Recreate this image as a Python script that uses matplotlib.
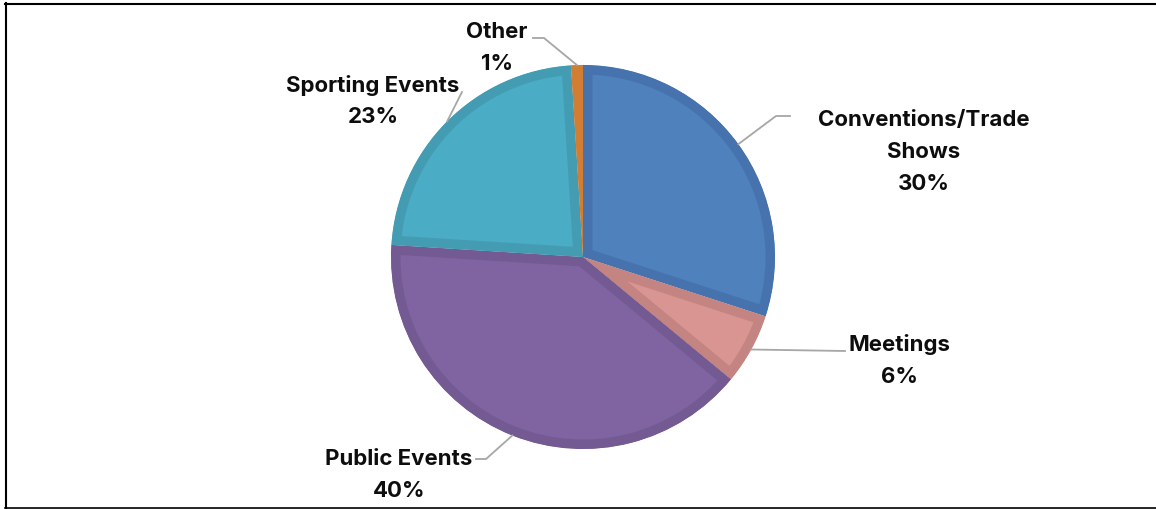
import matplotlib
matplotlib.use("Agg")
import matplotlib.pyplot as plt
import numpy as np
from matplotlib.lines import Line2D

categories = ["Conventions/Trade\nShows", "Meetings", "Public Events", "Sporting Events", "Other"]
values = [30, 6, 40, 23, 1]
pct_labels = ["30%", "6%", "40%", "23%", "1%"]
fill_colors = ["#4F81BD", "#D99592", "#8064A2", "#4AACC5", "#E98B3A"]
edge_colors = ["#4673AD", "#C48582", "#745A93", "#449CB3", "#D27D34"]

W, H = 1156, 510
fig = plt.figure(figsize=(W / 100, H / 100), dpi=100)
ax = fig.add_axes([0, 0, 1, 1])

cx, cy, R = 583, 258, 192
# y axis inverted -> this gives clockwise from 12 o'clock on screen
wedges, _ = ax.pie(values, colors=fill_colors, startangle=-90, counterclock=True,
                   center=(cx, cy), radius=R, frame=True,
                   wedgeprops=dict(linewidth=0))
ax.set_xlim(0, W)
ax.set_ylim(H, 0)
ax.set_aspect("equal")
ax.axis("off")
for w, ec in zip(wedges, edge_colors):
    w.set_edgecolor(ec)
    w.set_linewidth(19 * 72 / 100)
    w.set_joinstyle("miter")
    w.set_clip_on(True)
    w.set_clip_path(w)

font = dict(family=["Inter", "DejaVu Sans"], weight="bold", fontsize=16, color="#0D0D0D")
lc = "#A6A6A6"

# label layout: (text x, first line y, leader points after anchor)
layout = [
    (924, 120, [(776, 117), (790, 117)]),
    (899, 345, [(845, 352)]),
    (399, 459, [(486, 460), (476, 460)]),
    (373, 85, [(462, 93)]),
    (497, 32, [(544, 39), (533, 39)]),
]

cum = np.cumsum([0] + values)
total = sum(values)
for i, (cat, pct) in enumerate(zip(categories, pct_labels)):
    mid = (cum[i] + cum[i + 1]) / 2 / total
    ang = np.deg2rad(90 - 360 * mid)
    ax_pt = (cx + R * np.cos(ang), cy - R * np.sin(ang))
    tx, ty, pts = layout[i]
    xs = [ax_pt[0]] + [p[0] for p in pts]
    ys = [ax_pt[1]] + [p[1] for p in pts]
    ax.add_line(Line2D(xs, ys, color=lc, lw=1.3))
    lines = cat.split("\n") + [pct]
    for j, t in enumerate(lines):
        ax.text(tx, ty + 32 * j, t, ha="center", va="center", **font)

# frame (top, left, bottom)
fig.add_artist(Line2D([5 / W, 1], [1 - 4.5 / H, 1 - 4.5 / H], color="black", lw=1.5, transform=fig.transFigure))
fig.add_artist(Line2D([5.5 / W, 5.5 / W], [1 - 4 / H, 1 - 508.5 / H], color="black", lw=1.5, transform=fig.transFigure))
fig.add_artist(Line2D([5 / W, 1], [1 - 508.5 / H, 1 - 508.5 / H], color="black", lw=1.2, transform=fig.transFigure))

fig.savefig("out.png", dpi=100)
